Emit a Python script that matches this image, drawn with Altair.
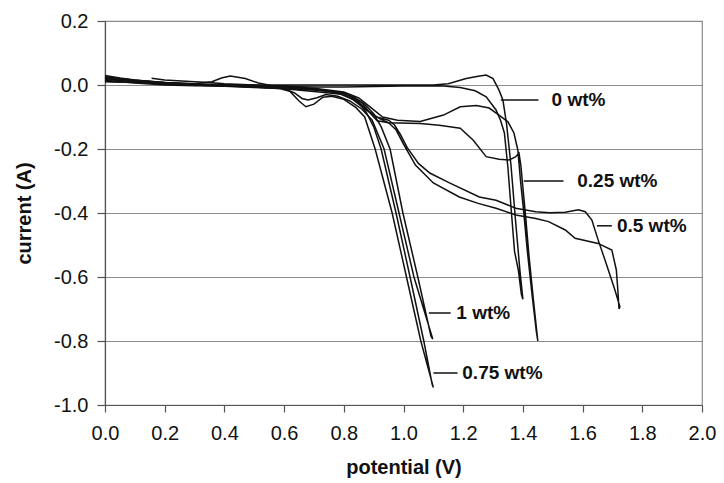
import altair as alt
import pandas as pd

# ---- data (potential in V, current in A) ----
v_0 = [0.00, 0.10, 0.20, 0.30, 0.40, 0.50, 0.60, 0.70, 0.80, 0.90, 1.00, 1.10, 1.15, 1.21, 1.25, 1.277,
       1.30, 1.32, 1.333, 1.345, 1.36, 1.375, 1.39, 1.40,
       1.395, 1.385, 1.372, 1.36, 1.35, 1.338, 1.325, 1.31, 1.277, 1.24, 1.19, 1.134, 1.0, 0.9, 0.8,
       0.7, 0.6, 0.5, 0.4, 0.3, 0.2, 0.1, 0.0]
i_0 = [0.012, 0.008, 0.004, 0.002, 0.001, 0.0, 0.0, 0.0, 0.0, 0.0, 0.0, 0.0, 0.004, 0.02, 0.027, 0.031,
       0.02, -0.016, -0.047, -0.12, -0.25, -0.42, -0.58, -0.67,
       -0.655, -0.58, -0.52, -0.38, -0.26, -0.15, -0.11, -0.078, -0.037, -0.018, -0.008, -0.003, -0.003,
       -0.005, -0.006, -0.006, -0.005, -0.004, -0.003, -0.002, 0.0, 0.006, 0.015]

v_025 = [0.156, 0.2, 0.3, 0.35, 0.4, 0.5, 0.6, 0.7, 0.78, 0.82, 0.86, 0.89, 0.912, 0.95, 1.056, 1.12,
         1.19, 1.233, 1.277, 1.32, 1.354, 1.375, 1.387, 1.393, 1.40, 1.41, 1.42, 1.435, 1.45,
         1.445, 1.43, 1.415, 1.403, 1.392, 1.383, 1.37, 1.35, 1.32, 1.287, 1.244, 1.19, 1.134, 1.056,
         0.98, 0.93, 0.89, 0.85, 0.8, 0.7, 0.6, 0.5, 0.4, 0.3, 0.2, 0.1, 0.0]
i_025 = [0.021, 0.016, 0.01, 0.008, 0.004, 0.0, -0.006, -0.012, -0.02, -0.03, -0.055, -0.09, -0.112,
         -0.118, -0.12, -0.126, -0.135, -0.172, -0.224, -0.232, -0.234, -0.225, -0.213, -0.25, -0.32,
         -0.42, -0.53, -0.67, -0.80,
         -0.77, -0.65, -0.52, -0.40, -0.30, -0.203, -0.15, -0.115, -0.094, -0.072, -0.064, -0.068,
         -0.094, -0.114, -0.11, -0.10, -0.07, -0.04, -0.022, -0.01, -0.005, -0.002, 0.0, 0.003, 0.008,
         0.015, 0.025]

v_05 = [0.0, 0.05, 0.1, 0.2, 0.3, 0.358, 0.39, 0.42, 0.47, 0.514, 0.56, 0.6, 0.7, 0.78, 0.83, 0.87,
        0.91, 0.95, 0.97, 0.99, 1.012, 1.05, 1.088, 1.154, 1.254, 1.31, 1.376, 1.443, 1.49, 1.542,
        1.586, 1.609, 1.631, 1.652, 1.675, 1.708, 1.725,
        1.722, 1.718, 1.713, 1.698, 1.652, 1.575, 1.542, 1.486, 1.443, 1.376, 1.31, 1.25, 1.187, 1.10,
        1.04, 1.0, 0.975, 0.95, 0.92, 0.88, 0.84, 0.8, 0.7, 0.6, 0.5, 0.4, 0.3, 0.2, 0.1, 0.0]
i_05 = [0.03, 0.022, 0.016, 0.008, 0.004, 0.01, 0.022, 0.028, 0.02, 0.006, -0.002, -0.006, -0.014,
        -0.025, -0.045, -0.075, -0.1, -0.11, -0.125, -0.155, -0.195, -0.245, -0.275, -0.306, -0.35,
        -0.36, -0.385, -0.396, -0.399, -0.398, -0.39, -0.396, -0.422, -0.484, -0.547, -0.64, -0.693,
        -0.70, -0.64, -0.578, -0.516, -0.495, -0.479, -0.453, -0.427, -0.417, -0.406, -0.385, -0.37,
        -0.35, -0.306, -0.25, -0.185, -0.14, -0.118, -0.105, -0.08, -0.045, -0.025, -0.016, -0.01,
        -0.006, -0.003, 0.0, 0.004, 0.01, 0.018]

v_075 = [0.0, 0.1, 0.2, 0.3, 0.4, 0.5, 0.58, 0.62, 0.65, 0.673, 0.70, 0.73, 0.76, 0.8, 0.84, 0.87,
         0.905, 0.962, 1.01, 1.058, 1.10,
         1.096, 1.068, 1.022, 0.975, 0.925, 0.90, 0.875, 0.85, 0.8, 0.7, 0.6, 0.5, 0.4, 0.3, 0.2, 0.1, 0.0]
i_075 = [0.02, 0.012, 0.005, 0.0, -0.003, -0.006, -0.01, -0.02, -0.05, -0.068, -0.06, -0.038, -0.035,
         -0.045, -0.07, -0.1, -0.2, -0.4, -0.6, -0.8, -0.945,
         -0.935, -0.8, -0.6, -0.4, -0.2, -0.13, -0.085, -0.055, -0.03, -0.02, -0.012, -0.008, -0.004,
         0.0, 0.004, 0.008, 0.01]

v_1 = [0.0, 0.1, 0.2, 0.3, 0.4, 0.5, 0.6, 0.635, 0.66, 0.68, 0.71, 0.74, 0.78, 0.82, 0.86, 0.895,
       0.935, 0.985, 1.035, 1.098,
       1.092, 1.048, 0.998, 0.955, 0.925, 0.9, 0.87, 0.83, 0.78, 0.7, 0.6, 0.5, 0.4, 0.3, 0.2, 0.1, 0.0]
i_1 = [0.025, 0.015, 0.007, 0.002, -0.002, -0.006, -0.012, -0.025, -0.042, -0.047, -0.04, -0.03,
       -0.035, -0.05, -0.075, -0.11, -0.2, -0.4, -0.6, -0.794,
       -0.785, -0.6, -0.4, -0.2, -0.13, -0.09, -0.06, -0.035, -0.022, -0.015, -0.01, -0.005, -0.001,
       0.002, 0.006, 0.012, 0.022]

series_names = ["0 wt%", "0.25 wt%", "0.5 wt%", "0.75 wt%", "1 wt%"]
series_v = [v_0, v_025, v_05, v_075, v_1]
series_i = [i_0, i_025, i_05, i_075, i_1]

# label annotations (data coordinates)
label_text = ["0 wt%", "0.25 wt%", "0.5 wt%", "1 wt%", "0.75 wt%"]
label_y = [-0.047, -0.30, -0.44, -0.7125, -0.90]
leader_x1 = [1.326, 1.403, 1.648, 1.085, 1.10]
leader_x2 = [1.452, 1.536, 1.698, 1.158, 1.181]
label_x = [1.496, 1.582, 1.715, 1.177, 1.197]

x_ticks = [0.0, 0.2, 0.4, 0.6, 0.8, 1.0, 1.2, 1.4, 1.6, 1.8, 2.0]
y_ticks = [-1.0, -0.8, -0.6, -0.4, -0.2, 0.0, 0.2]

rows = []
for name, vs, cs in zip(series_names, series_v, series_i):
    for k, (a, b) in enumerate(zip(vs, cs)):
        rows.append({"series": name, "order": k, "potential": a, "current": b})
curves = pd.DataFrame(rows)

labels = pd.DataFrame({"text": label_text, "y": label_y, "x1": leader_x1,
                       "x2": leader_x2, "tx": label_x})

FONT = "Liberation Sans"
xscale = alt.Scale(domain=[0, 2], nice=False, zero=False)
yscale = alt.Scale(domain=[-1.0, 0.2], nice=False, zero=False)

label_expr = "(datum.value < -0.0001 ? '-' : '') + format(abs(datum.value), '.1f')"

lines = alt.Chart(curves).mark_line(color="#111111", strokeWidth=1.5, interpolate="linear").encode(
    x=alt.X("potential:Q", scale=xscale,
            axis=alt.Axis(title="potential (V)", values=x_ticks, labelExpr=label_expr,
                          grid=False, tickSize=7, labelPadding=11, labelFlush=False,
                          titleY=52)),
    y=alt.Y("current:Q", scale=yscale,
            axis=alt.Axis(title="current (A)", values=y_ticks, labelExpr=label_expr,
                          grid=True, tickSize=8, labelPadding=9, labelFlush=False,
                          titleX=-71)),
    detail="series:N",
    order="order:Q",
)

leaders = alt.Chart(labels).mark_rule(color="#111111", strokeWidth=1.5).encode(
    x=alt.X("x1:Q", scale=xscale),
    x2="x2:Q",
    y=alt.Y("y:Q", scale=yscale),
)

texts = alt.Chart(labels).mark_text(align="left", baseline="middle", font=FONT,
                                    fontSize=19, fontWeight="bold", color="#111111").encode(
    x=alt.X("tx:Q", scale=xscale),
    y=alt.Y("y:Q", scale=yscale),
    text="text:N",
)

chart = alt.layer(lines, leaders, texts).properties(
    width=597, height=384,
    autosize=alt.AutoSizeParams(type="none"),
    padding={"left": 97, "top": 13, "right": 14, "bottom": 76},
).configure_view(
    stroke="#8c8c8c", strokeWidth=1.2
).configure_axis(
    labelFont=FONT, labelFontSize=20, labelColor="#111111",
    titleFont=FONT, titleFontSize=20, titleFontWeight="bold", titleColor="#111111",
    domainColor="#555555", tickColor="#555555", gridColor="#8c8c8c", gridWidth=1.2,
    domainWidth=1.2, tickWidth=1.2,
)

chart.save("out.html", embed_options={"renderer": "svg", "actions": False})
